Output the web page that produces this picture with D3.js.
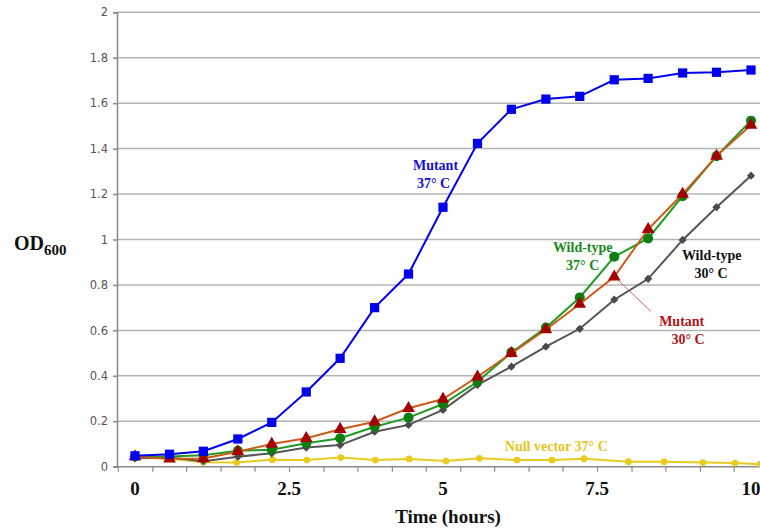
<!DOCTYPE html>
<html>
<head>
<meta charset="utf-8">
<script src="https://cdn.jsdelivr.net/npm/d3@7"></script>
<style>
  body { margin: 0; background: #fff; }
  svg { display: block; }
  .serif { font-family: "Liberation Serif", "Times New Roman", serif; font-weight: bold; }
</style>
</head>
<body>
<div id="chart"></div>
<script>
// time points (hours)
var hours = [0, 0.56, 1.11, 1.67, 2.22, 2.78, 3.33, 3.89, 4.44, 5, 5.56, 6.11, 6.67, 7.22, 7.78, 8.33, 8.89, 9.44, 10];
var nullHours = [0, 0.56, 1.11, 1.65, 2.23, 2.79, 3.34, 3.9, 4.45, 5.05, 5.59, 6.2, 6.77, 7.29, 8.01, 8.59, 9.22, 9.74, 10.15];

// OD600 readings
var mutant37 = [0.048, 0.055, 0.068, 0.122, 0.195, 0.329, 0.477, 0.700, 0.848, 1.142, 1.423, 1.573, 1.618, 1.630, 1.703, 1.709, 1.733, 1.736, 1.746];
var wild37 = [0.045, 0.045, 0.05, 0.07, 0.075, 0.103, 0.125, 0.176, 0.216, 0.276, 0.374, 0.503, 0.612, 0.745, 0.924, 1.005, 1.191, 1.367, 1.523];
var mutant30 = [0.044, 0.035, 0.036, 0.066, 0.10, 0.125, 0.165, 0.198, 0.257, 0.298, 0.396, 0.499, 0.604, 0.716, 0.836, 1.045, 1.200, 1.367, 1.504];
var wild30 = [0.037, 0.04, 0.024, 0.044, 0.059, 0.084, 0.095, 0.154, 0.184, 0.25, 0.36, 0.44, 0.528, 0.607, 0.735, 0.827, 0.998, 1.142, 1.281];
var nullVector = [0.04, 0.035, 0.02, 0.019, 0.031, 0.029, 0.04, 0.029, 0.034, 0.025, 0.037, 0.029, 0.029, 0.035, 0.022, 0.022, 0.018, 0.016, 0.011];

var yTicks = [0, 0.2, 0.4, 0.6, 0.8, 1, 1.2, 1.4, 1.6, 1.8, 2];
var xLabels = [0, 2.5, 5, 7.5, 10];
var xMinor = [-0.28, 0.28, 0.83, 1.39, 1.94, 2.5, 3.06, 3.61, 4.17, 4.72, 5.28, 5.83, 6.39, 6.94, 7.5, 8.06, 8.61, 9.17, 9.72];

var width = 760, height = 529;
var plotLeft = 117, plotTop = 12.3, plotBottom = 466.7;

var svg = d3.select("#chart").append("svg")
  .attr("width", width)
  .attr("height", height);

var x = d3.scaleLinear().domain([0, 10]).range([135, 751]);
var y = d3.scaleLinear().domain([0, 2]).range([plotBottom, plotTop]);

// gridlines
svg.append("g")
  .selectAll("line")
  .data(yTicks.slice(1))
  .enter().append("line")
  .attr("x1", plotLeft).attr("x2", width)
  .attr("y1", function(d){ return y(d); })
  .attr("y2", function(d){ return y(d); })
  .attr("stroke", "#b4b4b4")
  .attr("stroke-width", 1.5);

// y axis
var yAxis = svg.append("g")
  .attr("transform", "translate(" + plotLeft + ",0)")
  .call(d3.axisLeft(y).tickValues(yTicks).tickSize(4).tickPadding(5)
    .tickFormat(function(d){ return String(+d.toFixed(1)); }));
yAxis.select(".domain").attr("stroke", "#8a8a8a").attr("stroke-width", 1.5);
yAxis.selectAll(".tick line").attr("stroke", "#8a8a8a").attr("stroke-width", 1.5);
yAxis.selectAll("text")
  .attr("fill", "#555")
  .style("font-family", "DejaVu Sans, Verdana, sans-serif")
  .style("font-size", "11.5px");

// x axis with minor ticks between readings
var xAxis = svg.append("g")
  .attr("transform", "translate(0," + plotBottom + ")")
  .call(d3.axisBottom(x).tickValues(xMinor).tickSize(5).tickFormat(""));
xAxis.select(".domain").remove();
xAxis.selectAll(".tick line").attr("stroke", "#8a8a8a").attr("stroke-width", 1.2);
svg.append("line")
  .attr("x1", plotLeft - 4).attr("x2", width)
  .attr("y1", plotBottom).attr("y2", plotBottom)
  .attr("stroke", "#8a8a8a").attr("stroke-width", 1.5);

svg.append("g").selectAll("text")
  .data(xLabels)
  .enter().append("text")
  .attr("class", "serif")
  .attr("x", function(d){ return x(d); })
  .attr("y", 488)
  .attr("text-anchor", "middle")
  .attr("dominant-baseline", "central")
  .style("font-size", "19px")
  .attr("fill", "#111")
  .text(function(d){ return d; });

// axis titles
svg.append("text")
  .attr("class", "serif")
  .attr("x", 448).attr("y", 516.5)
  .attr("text-anchor", "middle")
  .attr("dominant-baseline", "central")
  .style("font-size", "19px")
  .attr("fill", "#111")
  .text("Time (hours)");

var od = svg.append("text")
  .attr("class", "serif")
  .attr("x", 14).attr("y", 250)
  .style("font-size", "20px")
  .attr("fill", "#111");
od.append("tspan").text("OD");
od.append("tspan").attr("dy", 5).style("font-size", "15px").text("600");

// series (diamonds are squares turned 45 degrees)
var series = [
  { t: nullHours, v: nullVector, line: "#e8cb1e", fill: "#e8cb1e", shape: d3.symbolCircle, size: 36, rot: 0 },
  { t: hours, v: wild30, line: "#555555", fill: "#4a4a4a", shape: d3.symbolSquare, size: 34, rot: 45 },
  { t: hours, v: wild37, line: "#229a22", fill: "#0f7d0f", shape: d3.symbolCircle, size: 80, rot: 0 },
  { t: hours, v: mutant30, line: "#cc5a18", fill: "#a50000", shape: d3.symbolTriangle, size: 70, rot: 0 },
  { t: hours, v: mutant37, line: "#0000ee", fill: "#0000ee", shape: d3.symbolSquare, size: 85, rot: 0 }
];

var line = d3.line()
  .x(function(d){ return x(d[0]); })
  .y(function(d){ return y(d[1]); });

series.forEach(function(s){
  var pts = s.t.map(function(t, i){ return [t, s.v[i]]; });
  var g = svg.append("g");
  g.append("path")
    .attr("d", line(pts))
    .attr("fill", "none")
    .attr("stroke", s.line)
    .attr("stroke-width", 2);
  g.selectAll("path.m")
    .data(pts)
    .enter().append("path")
    .attr("class", "m")
    .attr("transform", function(d){ return "translate(" + x(d[0]) + "," + y(d[1]) + ") rotate(" + s.rot + ")"; })
    .attr("d", d3.symbol().type(s.shape).size(s.size))
    .attr("fill", s.fill);
});

// leader line for mutant 30
svg.append("line")
  .attr("x1", 618).attr("y1", 280)
  .attr("x2", 651).attr("y2", 311.5)
  .attr("stroke", "#c83a3a").attr("stroke-width", 0.8);

// series labels
var labels = [
  { lines: ["Mutant", "37\u00b0 C"], xs: [435.5, 433.5], ys: [165.7, 183], color: "#1010d8", size: 14 },
  { lines: ["Wild-type", "37\u00b0 C"], xs: [582.7, 582.7], ys: [247, 265], color: "#1a8a1a", size: 14 },
  { lines: ["Wild-type", "30\u00b0 C"], xs: [711.7, 711], ys: [255.7, 273.3], color: "#111", size: 14 },
  { lines: ["Mutant", "30\u00b0 C"], xs: [681.7, 688], ys: [321.7, 339.3], color: "#b01414", size: 14 },
  { lines: ["Null vector 37\u00b0 C"], xs: [556.3], ys: [446.7], color: "#e3c622", size: 14 }
];

labels.forEach(function(l){
  l.lines.forEach(function(txt, i){
    svg.append("text")
      .attr("class", "serif")
      .attr("x", l.xs[i]).attr("y", l.ys[i])
      .attr("text-anchor", "middle")
      .attr("dominant-baseline", "central")
      .style("font-size", l.size + "px")
      .attr("fill", l.color)
      .text(txt);
  });
});
</script>
</body>
</html>
